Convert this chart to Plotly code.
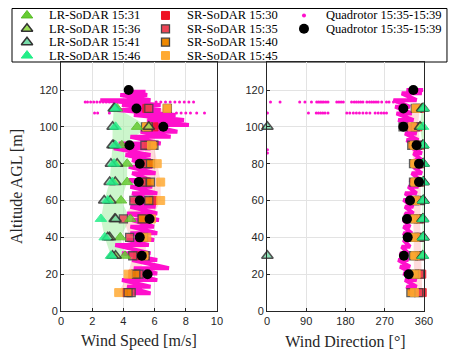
import plotly.graph_objects as go

# SoDAR range gates [m]
lr_alt = [30, 40, 50, 60, 70, 80, 90, 100, 110]
sr_alt = [10, 20, 30, 40, 50, 60, 70, 80, 90, 100, 110]

# LR-SoDAR wind speed [m/s] / direction [deg]
lr31_spd = [4.1, 3.8, 4.45, 3.85, 4.24, 4.24, 3.9, 4.88, 3.6]
lr36_spd = [3.5, 3.12, 3.44, 3.16, 3.48, 3.6, 3.38, 5.63, 3.38]
lr41_spd = [3.3, 3.0, 3.5, 2.77, 3.12, 3.2, 3.3, 3.31, 3.45]
lr46_spd = [3.2, 2.8, 2.56, 3.0, 3.3, 3.4, 3.5, 3.5, 3.5]
lr31_dir = [356, 357, 356, 357, 357, 357, 358, 352, 355]
lr36_dir = [357, 358, 357, 358, 358, 358, 357, 351, 356]
lr41_dir = [1, 359, 358, 359, 359, 359, 358, 1, 359]
lr46_dir = [358, 358, 358, 358, 358, 359, 359, 358, 359]

# SR-SoDAR wind speed [m/s] / direction [deg]
sr30_spd = [4.2, 4.6, 4.9, 5.1, 5.3, 5.9, 5.5, 5.6, 5.6, 5.96, 5.5]
sr35_spd = [4.5, 5.0, 4.6, 4.4, 4.0, 4.67, 5.2, 5.4, 5.38, 5.6, 5.63]
sr40_spd = [4.3, 4.8, 5.4, 5.3, 5.2, 5.63, 5.74, 5.74, 5.96, 5.42, 6.82]
sr45_spd = [3.7, 4.3, 5.3, 5.5, 5.8, 6.39, 6.39, 6.17, 5.8, 5.5, 6.8]
sr30_dir = [356, 355, 353, 352, 351, 353, 352, 351, 352, 346, 350]
sr35_dir = [348, 350, 350, 349, 348, 350, 348, 348, 345, 340, 345]
sr40_dir = [330, 338, 336, 337, 335, 338, 336, 336, 332, 312, 340]
sr45_dir = [338, 342, 340, 340, 340, 341, 340, 340, 338, 333, 342]

# quadrotor averages
quad_avg_alt = [20, 30, 40, 50, 60, 70, 80, 90, 100, 110, 120]
quad_avg_spd = [5.55, 5.18, 5.05, 5.68, 5.05, 4.99, 5.05, 4.39, 6.56, 4.84, 4.34]
quad_avg_dir = [325, 314, 322.6, 321, 328, 348.6, 348.6, 343, 312.7, 312.7, 335.6]

# quadrotor raw samples: spread of the trace at each altitude
quad_alt = [9.6, 13.2, 16.8, 20.4, 23.2, 27.7, 31.3, 35.8, 38.5, 42.2, 45.8, 49.4,
            53.0, 56.6, 60.3, 63.9, 67.5, 71.1, 74.8, 78.3, 82.0, 84.7, 88.3, 91.0,
            94.6, 97.3, 101.0, 103.7, 106.4, 109.1, 111.8, 114.5, 117.3, 119.1]
quad_spd_min = [4.56, 4.24, 3.91, 4.45, 4.67, 4.56, 3.91, 3.48, 4.24, 4.45, 4.45, 4.56,
                4.24, 4.45, 4.45, 4.56, 4.45, 4.35, 4.56, 4.35, 4.56, 4.13, 3.38, 3.7,
                4.45, 5.1, 5.53, 5.53, 4.67, 3.59, 3.91, 2.52, 3.8, 4.24]
quad_spd_max = [5.74, 5.74, 6.17, 6.17, 6.92, 6.17, 5.74, 5.63, 5.96, 6.17, 5.96, 6.28,
                6.17, 6.06, 5.74, 6.17, 5.85, 5.74, 6.06, 5.85, 5.74, 5.74, 5.74, 6.39,
                7.03, 7.46, 8.2, 7.89, 7.35, 6.39, 6.39, 5.74, 5.53, 5.42]
quad_dir_alt = [9.6, 13.2, 16.8, 20.4, 24.0, 27.7, 31.3, 34.9, 38.5, 42.2, 45.8, 49.4,
                53.0, 56.6, 60.3, 63.9, 67.5, 71.1, 74.8, 78.3, 82.0, 85.6, 89.2, 92.8,
                96.4, 100.0, 103.7, 107.3, 110.9, 114.5, 118.2, 120.0]
quad_dir_min = [328, 320, 316.5, 312.7, 305, 301, 305, 309, 313, 313, 313, 313,
                316.5, 316.5, 313, 316.5, 324, 328, 332, 336, 339, 336, 328, 320,
                316.5, 309, 301, 297, 294, 290, 309, 320]
quad_dir_max = [343, 343, 343, 335.6, 328, 324, 324, 328, 328, 332, 328, 328,
                335.6, 335.6, 339, 343, 347, 351, 355, 355, 355, 355, 351, 347,
                343, 339, 336, 332, 328, 343, 355, 358]

# stray quadrotor samples near the top of the profile
stray_spd_alt = [113.5] * 18 + [107.5] * 11
stray_spd = [1.55, 1.7, 1.9, 2.1, 2.3, 2.5, 2.7, 2.9, 3.1, 6.1, 6.4, 6.7, 7.0, 7.3, 7.6, 7.9, 8.2, 8.5,
             2.15, 2.35, 3.1, 6.6, 7.0, 7.4, 7.7, 8.0, 8.3, 8.7, 9.2]
stray_dir_alt = [113.5] * 33 + [107.5] * 21 + [87.5, 85.8]
stray_dir = [8, 30, 75, 87, 102, 114, 118, 122, 126, 130, 135, 140, 160, 165, 170, 175,
             194, 200, 205, 210, 215, 220, 229, 235, 240, 245, 250, 255, 263, 274, 280, 290, 297,
             95, 113, 118, 123, 128, 133, 140, 183, 190, 198, 205, 212, 220, 228, 236, 248,
             255, 262, 268, 274, 1,
             1, 1]


def scribble(alt, lo, hi):
    # sweep left-to-right at every altitude, like the raw flight trace
    xs, ys = [], []
    for h, a, b in zip(alt, lo, hi):
        xs += [a, b]
        ys += [h, h]
    return xs, ys


def band(alt, series, unwrap=False):
    vals = [[v + 360 if (unwrap and v < 180) else v for v in s] for s in series]
    lo = [min(col) for col in zip(*vals)]
    hi = [max(col) for col in zip(*vals)]
    return lo + hi[::-1], list(alt) + list(alt)[::-1]


MAG = '#ff10cc'
fig = go.Figure()

for xa, ya, lr, sr, unwrap in [
    ('x', 'y', [lr31_spd, lr36_spd, lr41_spd, lr46_spd], [sr30_spd, sr35_spd, sr40_spd, sr45_spd], False),
    ('x2', 'y2', [lr31_dir, lr36_dir, lr41_dir, lr46_dir], [sr30_dir, sr35_dir, sr40_dir, sr45_dir], True),
]:
    bx, by = band(lr_alt, lr, unwrap)
    fig.add_trace(go.Scatter(x=bx, y=by, fill='toself', mode='lines', line=dict(width=0),
                             fillcolor='rgba(170,240,170,0.6)', hoverinfo='skip', xaxis=xa, yaxis=ya))
    bx, by = band(sr_alt, sr, unwrap)
    fig.add_trace(go.Scatter(x=bx, y=by, fill='toself', mode='lines', line=dict(width=0),
                             fillcolor='rgba(255,185,185,0.5)', hoverinfo='skip', xaxis=xa, yaxis=ya))

# quadrotor raw trace
zx, zy = scribble(quad_alt, quad_spd_min, quad_spd_max)
fig.add_trace(go.Scatter(x=zx, y=zy, mode='lines', line=dict(color=MAG, width=4), xaxis='x', yaxis='y'))
zx, zy = scribble(quad_dir_alt, quad_dir_min, quad_dir_max)
fig.add_trace(go.Scatter(x=zx, y=zy, mode='lines', line=dict(color=MAG, width=4), xaxis='x2', yaxis='y2'))
quad_dot = dict(color=MAG, size=3)
fig.add_trace(go.Scatter(x=stray_spd, y=stray_spd_alt, mode='markers', marker=quad_dot, xaxis='x', yaxis='y'))
fig.add_trace(go.Scatter(x=stray_dir, y=stray_dir_alt, mode='markers', marker=quad_dot, xaxis='x2', yaxis='y2'))

lr_styles = [
    ('LR-SoDAR 15:31', lr31_spd, lr31_dir, '#66cc33', '#55bb22', 1),
    ('LR-SoDAR 15:36', lr36_spd, lr36_dir, '#99dd55', '#333333', 1.5),
    ('LR-SoDAR 15:41', lr41_spd, lr41_dir, '#77ddaa', '#333333', 1.5),
    ('LR-SoDAR 15:46', lr46_spd, lr46_dir, '#22ee88', '#22ee88', 1),
]
sr_styles = [
    ('SR-SoDAR 15:30', sr30_spd, sr30_dir, '#ee1122', '#ee1122', 1),
    ('SR-SoDAR 15:35', sr35_spd, sr35_dir, '#ee4455', '#444444', 1.3),
    ('SR-SoDAR 15:40', sr40_spd, sr40_dir, '#ee8800', '#444444', 1.3),
    ('SR-SoDAR 15:45', sr45_spd, sr45_dir, '#ffaa33', '#ffaa33', 1),
]

legend_cols = [[], [], []]
for alt, styles, sym, size, col in [(sr_alt, sr_styles, 'square', 8, 1), (lr_alt, lr_styles, 'triangle-up', 10, 0)]:
    for name, spd, dr, fill, edge, lw in styles:
        mk = dict(symbol=sym, size=size, color=fill, line=dict(color=edge, width=lw))
        fig.add_trace(go.Scatter(x=spd, y=alt, mode='markers', marker=mk, opacity=0.85,
                                 cliponaxis=False, xaxis='x', yaxis='y'))
        fig.add_trace(go.Scatter(x=dr, y=alt, mode='markers', marker=mk, opacity=0.85,
                                 cliponaxis=False, xaxis='x2', yaxis='y2'))
        legend_cols[col].append((name, mk))

avg_dot = dict(symbol='circle', size=10, color='black')
fig.add_trace(go.Scatter(x=quad_avg_spd, y=quad_avg_alt, mode='markers', marker=avg_dot,
                         cliponaxis=False, xaxis='x', yaxis='y'))
fig.add_trace(go.Scatter(x=quad_avg_dir, y=quad_avg_alt, mode='markers', marker=avg_dot,
                         cliponaxis=False, xaxis='x2', yaxis='y2'))
legend_cols[2] = [('Quadrotor 15:35-15:39', dict(quad_dot, size=4)),
                  ('Quadrotor 15:35-15:39', avg_dot)]

# legend: three columns drawn in its own little subplot (column index, row index)
annotations = []
for c, entries in enumerate(legend_cols):
    for r, (name, mk) in enumerate(entries):
        fig.add_trace(go.Scatter(x=[c], y=[r], mode='markers', marker=mk, hoverinfo='skip',
                                 xaxis='x3', yaxis='y3'))
        annotations.append(dict(x=c, y=r, xref='x3', yref='y3', text=name, showarrow=False,
                                xanchor='left', yanchor='middle', xshift=20,
                                font=dict(family='Liberation Serif', size=12.5, color='black')))

tick_font = dict(family='Liberation Sans', size=11, color='#262626')
title_font = dict(family='Liberation Serif', size=16, color='#262626')
ax = dict(showline=True, linecolor='#262626', linewidth=1, mirror=True, ticks='inside', ticklen=3,
          tickcolor='#262626', showgrid=True, gridcolor='#e3e3e3', zeroline=False, tickfont=tick_font,
          title_font=title_font, automargin=False)
hidden = dict(visible=False, showgrid=False, zeroline=False, automargin=False, fixedrange=True)
alt_ticks = [0, 20, 40, 60, 80, 100, 120]

# the page keeps its default 8 px body margin, so the figure is 8 px smaller than the window
fig.update_layout(
    width=460, height=342, autosize=False, showlegend=False,
    margin=dict(l=0, r=0, t=0, b=0),
    plot_bgcolor='white', paper_bgcolor='white',
    xaxis=dict(ax, domain=[0.1152, 0.4543], range=[0, 10], dtick=2, title_text='Wind Speed [m/s]',
               anchor='y'),
    yaxis=dict(ax, domain=[0.1140, 0.8421], range=[0, 135.2], tickvals=alt_ticks,
               title_text='Altitude AGL [m]', title_standoff=12, anchor='x'),
    xaxis2=dict(ax, domain=[0.5630, 0.9043], range=[0, 360], tickvals=[0, 90, 180, 270, 360],
                title_text='Wind Direction [°]', anchor='y2'),
    yaxis2=dict(ax, domain=[0.1140, 0.8421], range=[0, 135.2], tickvals=alt_ticks, anchor='x2'),
    xaxis3=dict(hidden, domain=[0.0087, 0.9543], range=[-0.1083, 3.0325], anchor='y3'),
    yaxis3=dict(hidden, domain=[0.8421, 0.9985], range=[3.4815, -0.5185], anchor='x3'),
    annotations=annotations,
    shapes=[dict(type='rect', xref='x3 domain', yref='y3 domain', x0=0, x1=1, y0=0, y1=1,
                 line=dict(color='black', width=1), fillcolor='white', layer='below')],
)

fig.write_html("out.html")
